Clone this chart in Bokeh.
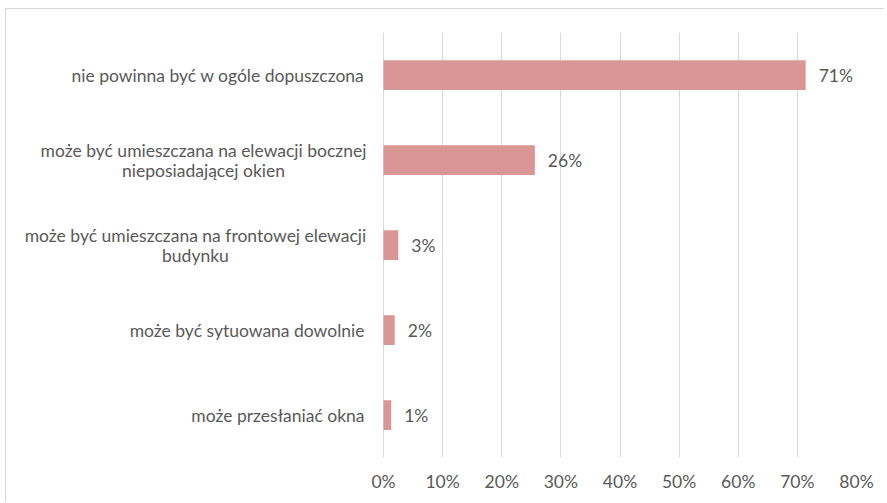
from bokeh.plotting import figure
from bokeh.models import Range1d, FixedTicker, PrintfTickFormatter, ColumnDataSource
from bokeh.core.properties import value
from bokeh.embed import file_html
from bokeh.resources import INLINE

categories = [
    "nie powinna być w ogóle dopuszczona",
    "może być umieszczana na elewacji bocznej\nnieposiadającej okien",
    "może być umieszczana na frontowej elewacji\nbudynku",
    "może być sytuowana dowolnie",
    "może przesłaniać okna",
]
values = [71.4, 25.6, 2.5, 1.9, 1.3]
value_labels = ["71%", "26%", "3%", "2%", "1%"]
x_ticks = [0, 10, 20, 30, 40, 50, 60, 70, 80]

FONT = "Lato"
TXT = "#595959"
FS = "17.5px"

n_cat = len(categories)
ypos = [n_cat - i - 0.5 for i in range(n_cat)]

# layout: frame spans whole canvas width minus right border; value 0 sits at ZERO_PX
W, H = 879, 494
RIGHT_BORDER = 29
ZERO_PX = 377
frame_w = W - RIGHT_BORDER
x_max = x_ticks[-1]
x_min = -x_max * ZERO_PX / (frame_w - ZERO_PX)

p = figure(
    width=W, height=H,
    x_range=Range1d(x_min, x_max),
    y_range=Range1d(0, n_cat),
    output_backend="svg", toolbar_location=None,
    min_border_left=0, min_border_right=RIGHT_BORDER,
    min_border_top=23, min_border_bottom=46,
)
p.outline_line_color = None
p.background_fill_color = "white"
p.border_fill_color = "white"
p.styles = {"margin-top": "8px", "margin-left": "5px",
            "border-top": "1px solid #D9D9D9", "border-left": "1px solid #D9D9D9"}

p.yaxis.visible = False
p.ygrid.visible = False
p.xgrid.ticker = FixedTicker(ticks=x_ticks)
p.xgrid.bounds = (0, x_max)
p.xgrid.grid_line_color = "#D9D9D9"
p.xgrid.grid_line_width = 1

src = ColumnDataSource(dict(y=ypos, val=values, lab=value_labels))
p.hbar(y="y", right="val", left=0, height=0.35, source=src,
       fill_color="#D99694", line_color=None)
p.text(x="val", y="y", text="lab", source=src, x_offset=13,
       text_baseline="middle", text_align="left",
       text_font=value(FONT), text_font_size=FS, text_color=TXT)

ax = p.xaxis[0]
ax.ticker = FixedTicker(ticks=x_ticks)
ax.formatter = PrintfTickFormatter(format="%d%%")
ax.axis_line_color = None
ax.major_tick_line_color = None
ax.minor_tick_line_color = None
ax.major_tick_out = 0
ax.major_label_standoff = 13
ax.major_label_text_font = FONT
ax.major_label_text_font_size = FS
ax.major_label_text_color = TXT

# category labels, anchored at value 0 and offset left in pixels
GAP = 19
LINE_H = 20
CHAR_W = 8.05
r_y, r_t, r_off = [], [], []
c_y, c_t, c_xo, c_yo = [], [], [], []
for cat, yc in zip(categories, ypos):
    lines = cat.split("\n")
    if len(lines) == 1:
        r_y.append(yc); r_t.append(lines[0]); r_off.append(0)
    else:
        cx = -GAP - len(lines[0]) * CHAR_W / 2
        for i, ln in enumerate(lines):
            c_y.append(yc); c_t.append(ln); c_xo.append(cx)
            c_yo.append(-(len(lines) - 1) / 2 * LINE_H + i * LINE_H)

p.text(x=0, y="y", text="t", source=ColumnDataSource(dict(y=r_y, t=r_t)),
       x_offset=-GAP, text_align="right", text_baseline="middle",
       text_font=value(FONT), text_font_size=FS, text_color=TXT)
p.text(x=0, y="y", text="t", x_offset="xo", y_offset="yo",
       source=ColumnDataSource(dict(y=c_y, t=c_t, xo=c_xo, yo=c_yo)),
       text_align="center", text_baseline="middle",
       text_font=value(FONT), text_font_size=FS, text_color=TXT)

open("out.html", "w").write(file_html(p, INLINE))
